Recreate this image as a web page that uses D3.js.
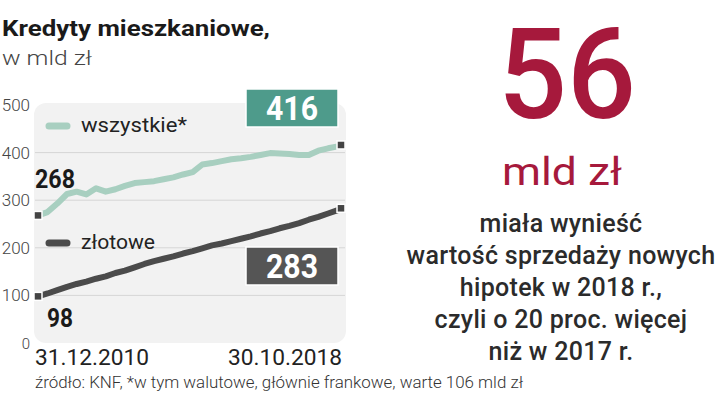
<!DOCTYPE html>
<html>
<head>
<meta charset="utf-8">
<script src="https://cdn.jsdelivr.net/npm/d3@7"></script>
<style>
  body { margin: 0; background: #fff; }
  text { font-family: Roboto, "Open Sans", sans-serif; }
</style>
</head>
<body>
<svg id="chart" width="720" height="398"></svg>
<script>
// quarterly readings, Dec 2010 .. Sep 2018, plus the last month (Oct 2018)
const months = [
  "2010-12","2011-03","2011-06","2011-09","2011-12","2012-03","2012-06","2012-09",
  "2012-12","2013-03","2013-06","2013-09","2013-12","2014-03","2014-06","2014-09",
  "2014-12","2015-03","2015-06","2015-09","2015-12","2016-03","2016-06","2016-09",
  "2016-12","2017-03","2017-06","2017-09","2017-12","2018-03","2018-06","2018-09","2018-10"
];
const wszystkie = [
  268, 275, 293, 313, 318, 312, 325, 318,
  323, 330, 336, 338, 340, 344, 348, 354,
  359, 375, 378, 382, 386, 388, 391, 395,
  399, 398, 397, 395, 395, 404, 409, 413, 416
];
const zlotowe = [
  98, 104, 111, 118, 124, 129, 135, 140,
  147, 152, 159, 166, 172, 177, 182, 188,
  193, 199, 205, 209, 214, 219, 224, 230,
  235, 241, 246, 252, 259, 265, 272, 279, 283
];
const yTicks = [0, 100, 200, 300, 400, 500];
const xLabels = ["31.12.2010", "30.10.2018"];
const textLines = [
  "miała wynieść",
  "wartość sprzedaży nowych",
  "hipotek w 2018 r.,",
  "czyli o 20 proc. więcej",
  "niż w 2017 r."
];

const svg = d3.select("#chart");
const parse = d3.timeParse("%Y-%m");
const dates = months.map(parse);

const x = d3.scaleTime()
  .domain([dates[0], dates[dates.length - 1]])
  .range([38, 341]);
const y = d3.scaleLinear().domain([0, 500]).range([343, 105]);

// titles
svg.append("text").attr("x", 2).attr("y", 36)
  .attr("font-size", 22).attr("font-weight", 700).attr("fill", "#1a1a1a")
  .attr("textLength", 268).attr("lengthAdjust", "spacingAndGlyphs")
  .text("Kredyty mieszkaniowe,");
svg.append("text").attr("x", 2).attr("y", 65)
  .attr("font-size", 21).attr("font-weight", 300).attr("fill", "#444")
  .attr("textLength", 90).attr("lengthAdjust", "spacingAndGlyphs")
  .text("w mld zł");

// plot background
svg.append("rect")
  .attr("x", 34).attr("y", y(500) - 2)
  .attr("width", 312).attr("height", y(0) - y(500) + 2)
  .attr("rx", 12).attr("fill", "#f2f2f2");

// grid
svg.append("g").selectAll("line")
  .data(yTicks.filter(d => d > 0 && d < 500))
  .join("line")
  .attr("x1", 35).attr("x2", 345)
  .attr("y1", d => y(d)).attr("y2", d => y(d))
  .attr("stroke", "#d6d6d6").attr("stroke-width", 1);

// y labels
svg.append("g").selectAll("text")
  .data(yTicks)
  .join("text")
  .attr("x", 30).attr("y", d => y(d) + 6)
  .attr("text-anchor", "end")
  .attr("font-size", d => d === 0 ? 15 : 17).attr("font-weight", 300).attr("fill", "#444")
  .text(d => d);

// x labels
svg.append("text").attr("x", 35).attr("y", 365)
  .attr("font-size", 22).attr("fill", "#222")
  .attr("textLength", 114).attr("lengthAdjust", "spacingAndGlyphs")
  .text(xLabels[0]);
svg.append("text").attr("x", 228).attr("y", 365)
  .attr("font-size", 22).attr("fill", "#222")
  .attr("textLength", 114).attr("lengthAdjust", "spacingAndGlyphs")
  .text(xLabels[1]);

// lines
const line = d3.line()
  .x((d, i) => x(dates[i]))
  .y(d => y(d))
  .curve(d3.curveLinear);

svg.append("path").datum(wszystkie)
  .attr("d", line).attr("fill", "none")
  .attr("stroke", "#a8cfc0").attr("stroke-width", 6)
  .attr("stroke-linejoin", "round").attr("stroke-linecap", "round");

svg.append("path").datum(zlotowe)
  .attr("d", line).attr("fill", "none")
  .attr("stroke", "#4b4b4b").attr("stroke-width", 6)
  .attr("stroke-linejoin", "round").attr("stroke-linecap", "round");

// end markers
const last = dates.length - 1;
const markers = [
  [dates[0], wszystkie[0]], [dates[last], wszystkie[last]],
  [dates[0], zlotowe[0]], [dates[last], zlotowe[last]]
];
svg.append("g").selectAll("rect")
  .data(markers)
  .join("rect")
  .attr("x", d => x(d[0]) - 4).attr("y", d => y(d[1]) - 4)
  .attr("width", 8).attr("height", 8)
  .attr("fill", "#444").attr("stroke", "#fff").attr("stroke-width", 1.5);

// start value labels
svg.append("text").attr("x", x(dates[0]) - 3).attr("y", y(wszystkie[0]) - 27)
  .attr("font-size", 25).attr("font-weight", 700).attr("fill", "#1a1a1a")
  .attr("textLength", 40).attr("lengthAdjust", "spacingAndGlyphs")
  .text(wszystkie[0]);
svg.append("text").attr("x", x(dates[0]) + 9).attr("y", y(zlotowe[0]) + 31)
  .attr("font-size", 25).attr("font-weight", 700).attr("fill", "#1a1a1a")
  .attr("textLength", 26).attr("lengthAdjust", "spacingAndGlyphs")
  .text(zlotowe[0]);

// end value boxes
function valueBox(val, top, fill) {
  svg.append("rect").attr("x", 246).attr("y", top)
    .attr("width", 92).attr("height", 38)
    .attr("fill", fill).attr("stroke", "#fff").attr("stroke-width", 1.5);
  svg.append("text").attr("x", 292).attr("y", top + 31)
    .attr("text-anchor", "middle")
    .attr("font-size", 34).attr("font-weight", 700).attr("fill", "#fff")
    .attr("textLength", 52).attr("lengthAdjust", "spacingAndGlyphs")
    .text(val);
}
valueBox(wszystkie[last], 89, "#4e9b8b");
valueBox(zlotowe[last], 247, "#555555");

// legend
const legend = [
  { name: "wszystkie*", color: "#a8cfc0", y: 126, w: 106 },
  { name: "złotowe", color: "#4b4b4b", y: 243, w: 74 }
];
const lg = svg.append("g").selectAll("g").data(legend).join("g");
lg.append("line")
  .attr("x1", 49).attr("x2", 67)
  .attr("y1", d => d.y).attr("y2", d => d.y)
  .attr("stroke", d => d.color).attr("stroke-width", 7).attr("stroke-linecap", "round");
lg.append("text")
  .attr("x", 81).attr("y", d => d.y + 6)
  .attr("font-size", 21).attr("fill", "#222")
  .attr("textLength", d => d.w).attr("lengthAdjust", "spacingAndGlyphs")
  .text(d => d.name);

// source
svg.append("text").attr("x", 35).attr("y", 388)
  .attr("font-size", 16).attr("font-weight", 300).attr("fill", "#333")
  .attr("textLength", 488).attr("lengthAdjust", "spacingAndGlyphs")
  .text("źródło: KNF, *w tym walutowe, głównie frankowe, warte 106 mld zł");

// right panel
svg.append("text").attr("x", 567).attr("y", 118)
  .attr("text-anchor", "middle")
  .attr("font-size", 126).attr("font-weight", 500).attr("fill", "#a6193c")
  .attr("textLength", 138).attr("lengthAdjust", "spacingAndGlyphs")
  .text("56");
svg.append("text").attr("x", 562).attr("y", 185)
  .attr("text-anchor", "middle")
  .attr("font-size", 39).attr("fill", "#a6193c")
  .attr("textLength", 120).attr("lengthAdjust", "spacingAndGlyphs")
  .text("mld zł");
svg.append("g").selectAll("text")
  .data(textLines)
  .join("text")
  .attr("x", 561).attr("y", (d, i) => 232 + i * 32)
  .attr("text-anchor", "middle")
  .attr("font-size", 25).attr("font-weight", 500).attr("fill", "#2b2b2b")
  .attr("letter-spacing", 0.3)
  .text(d => d);
</script>
</body>
</html>
